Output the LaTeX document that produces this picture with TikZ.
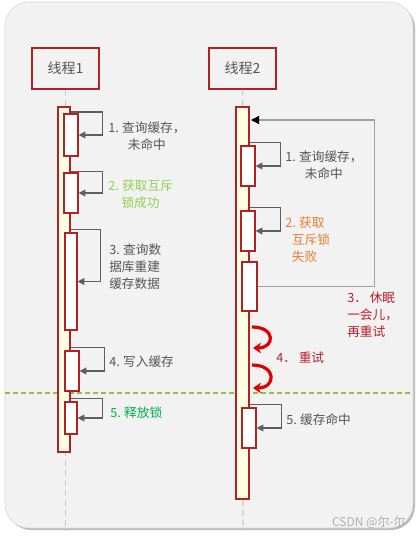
\documentclass[tikz,border=0pt]{standalone}
\usepackage{fontspec}
\setmainfont{Noto Sans CJK SC}
\usetikzlibrary{positioning,arrows.meta,shadows}
\definecolor{boxred}{RGB}{178,34,34}
\definecolor{bggray}{RGB}{242,242,242}
\definecolor{framegray}{RGB}{212,212,212}
\definecolor{barfill}{RGB}{255,255,228}
\definecolor{txt}{RGB}{85,85,85}
\definecolor{msggray}{RGB}{90,96,98}
\definecolor{lifegray}{RGB}{200,200,200}
\definecolor{loopgray}{RGB}{160,160,160}
\definecolor{okgreen}{RGB}{146,208,80}
\definecolor{lockgreen}{RGB}{0,176,80}
\definecolor{failorange}{RGB}{237,125,49}
\definecolor{warnred}{RGB}{185,30,40}
\definecolor{syncolive}{RGB}{150,190,60}
\definecolor{wmgray}{RGB}{175,175,175}
\newcommand\stepno[1]{\makebox[1.1em][l]{#1}}
\begin{document}
\begin{tikzpicture}[x=0.75pt,y=-0.75pt,
    thread/.style={draw=boxred,line width=0.9pt,minimum width=50.25pt,minimum height=30.75pt,
      text=txt,font=\fontsize{10.5}{12}\selectfont},
    bar/.style={draw=boxred,fill=barfill,line width=0.9pt,minimum width=9pt,inner sep=0pt},
    act/.style={draw=boxred,fill=white,line width=0.9pt,minimum width=10.5pt,inner sep=0pt},
    msg/.style={draw=msggray,line width=1pt,-{Triangle[length=5pt,width=5pt]}},
    retry/.style={draw=loopgray,line width=0.9pt,-{Triangle[length=6pt,width=6pt,color=black]}},
    spin/.style={draw=red!88!black,line width=2.4pt,-{Stealth[length=6pt,width=8pt]}},
    life/.style={draw=lifegray,line width=0.9pt,dash pattern=on 4.5pt off 3pt},
    sync/.style={draw=syncolive,line width=0.8pt,dash pattern=on 3.5pt off 2.5pt},
    lbl/.style={anchor=west,align=center,inner sep=0pt,text=txt,font=\fontsize{9.5}{12.75}\selectfont}]
    \useasboundingbox (0,0) rectangle (419,538);
    \draw[draw=framegray,fill=bggray,rounded corners=18pt,
      drop shadow={shadow xshift=1.5pt,shadow yshift=-1.5pt,fill=black!45,opacity=0.6}]
      (5,2) rectangle (413,528);

    % threads and life lines
    \node[thread] (t1) at (65.5,68.5) {线程1};
    \node[thread] (t2) at (242.5,68.5) {线程2};
    \coordinate (e1) at (65.5,530);
    \coordinate (e2) at (243,530);
    \draw[life] (t1) -- (e1);
    \draw[life] (t2) -- (e2);

    \coordinate (sl) at (5,393);
    \coordinate (sr) at (413,393);
    \draw[sync] (sl) -- (sr);

    \node[bar,minimum height=258.75pt] (bar1) at (64,279.5) {};
    \node[bar,minimum width=9.75pt,minimum height=294pt] (bar2) at (242.5,303) {};

    % thread 1
    \node[act,minimum height=31.5pt] (a1) at (71,135) {};
    \node[act,minimum height=30pt] (a2) at (71,193) {};
    \node[act,minimum width=9pt,minimum height=72.75pt] (a3) at (71,281.5) {};
    \node[act,minimum height=30pt] (a4) at (72,371) {};
    \node[act,minimum width=9pt,minimum height=24pt] (a5) at (71,418) {};

    \draw[msg] (bar1.east |- a1.north) ++(0,-1.5) -- ++(32,0) |- (a1.east);
    \draw[msg] (bar1.east |- a2.north) ++(0,-1) -- ++(32,0) |- (a2.east);
    \draw[msg] (bar1.east |- a3.north) ++(0,-3) -- ++(30,0) |- (a3.east);
    \draw[msg] (bar1.east |- a4.north) ++(0,-3) -- ++(34,0) |- (a4.east);
    \draw[msg] (bar1.east |- a5.north) ++(0,-3) -- ++(32,0) |- (a5.east);

    \node[lbl] (l1) at (108,136.5) {\stepno{1.}查询缓存，\\未命中};
    \node[lbl,text=okgreen] (l2) at (108,194) {\stepno{2.}获取互斥\\锁成功};
    \node[lbl,align=left] (l3) at (109,267) {\stepno{3.}查询数\\据库重建\\缓存数据};
    \node[lbl] (l4) at (109,362) {\stepno{4.}写入缓存};
    \node[lbl,text=lockgreen] (l5) at (110,413) {\stepno{5.}释放锁};

    % thread 2
    \node[act,minimum height=30pt] (c1) at (248,166) {};
    \node[act,minimum height=30pt] (c2) at (248,231) {};
    \node[act,minimum width=11.25pt,minimum height=36.75pt] (c3) at (249.5,286.5) {};
    \node[act,minimum height=30pt] (c5) at (249,428) {};

    \draw[msg] (bar2.east |- c1.north) ++(0,-3) -- ++(31,0) |- (c1.east);
    \draw[msg] (bar2.east |- c2.north) ++(0,-3) -- ++(31,0) |- (c2.east);
    \draw[msg] (bar2.east |- c5.north) ++(0,-3) -- ++(32,0) |- (c5.east);

    \coordinate (wake) at (251,120);
    \draw[retry] (c3.east) -- ++(117,0) |- (wake);

    \coordinate (r1a) at (252,327);
    \coordinate (r1b) at (253,348);
    \coordinate (r2a) at (252,365);
    \coordinate (r2b) at (253,388);
    \draw[spin] (r1a) .. controls +(24,0) and +(22,0) .. (r1b);
    \draw[spin] (r2a) .. controls +(25,0) and +(23,0) .. (r2b);

    \node[lbl] (m1) at (285,165.5) {\stepno{1.}查询缓存，\\未命中};
    \node[lbl,align=left,text=failorange] (m2) at (285,240) {\stepno{2.}获取\\\hspace{5pt}互斥锁\\\hspace{5pt}失败};
    \node[lbl,align=left,text=warnred] (m3) at (347,315) {3．\ 休眠\\一会儿，\\再重试};
    \node[lbl,text=warnred] (m4) at (276,358) {4．\ 重试};
    \node[lbl] (m5) at (286,420) {\stepno{5.}缓存命中};

    \node[anchor=east,inner sep=0pt,text=wmgray,font=\fontsize{9}{10}\selectfont] (wm) at (406,522) {CSDN @尔-尔};
\end{tikzpicture}
\end{document}
